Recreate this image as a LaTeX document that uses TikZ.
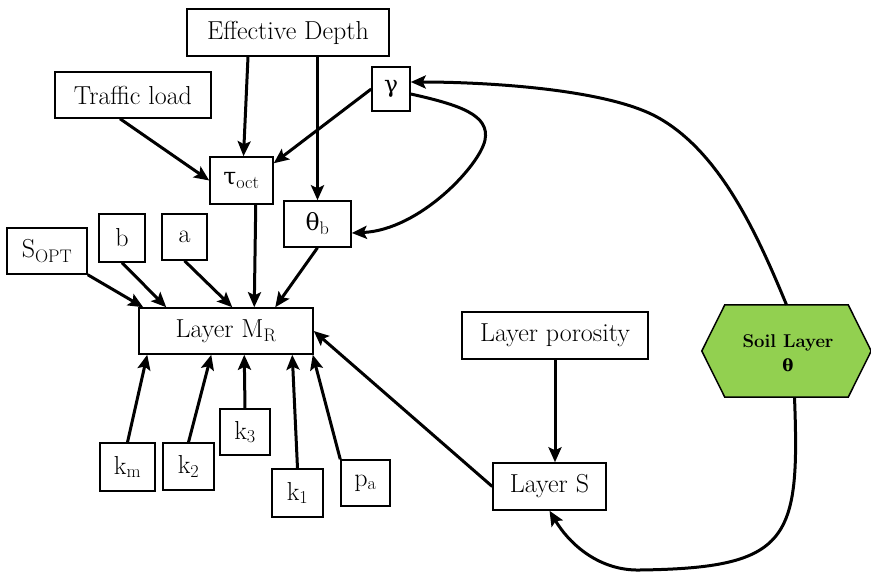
\documentclass[tikz,border=0pt]{standalone}
\usepackage{fontspec}
\newfontfamily\grk{DejaVu Serif}[Scale=0.9]
\usetikzlibrary{arrows.meta,calc}
\definecolor{soilgreen}{HTML}{92D050}
\begin{document}
\begin{tikzpicture}[x=1pt,y=-1pt,
  box/.style={draw, line width=1.5pt, inner sep=0pt, font=\fontsize{26}{31}\selectfont},
  arr/.style={line width=3pt, -{Stealth[length=15pt,width=13pt,inset=3pt]}}]
\useasboundingbox (0,0) rectangle (871,572);
% nodes
\node[box, minimum width=202pt, minimum height=47pt] (ed) at (288,32.5) {Effective Depth};
\node[box, minimum width=156pt, minimum height=46pt] (tl) at (133,95) {Traffic load};
\node[box, minimum width=38pt, minimum height=44pt] (g) at (391,89) {\grk γ};
\node[box, minimum width=63pt, minimum height=47pt] (tau) at (241.5,180.5) {{\grk τ}\textsubscript{oct}};
\node[box, minimum width=67pt, minimum height=46pt] (thb) at (317.5,224) {{\grk θ}\textsubscript{b}};
\node[box, minimum width=80pt, minimum height=46pt] (sopt) at (47,251) {S\textsubscript{OPT}};
\node[box, minimum width=46pt, minimum height=48pt] (b) at (122,238) {b};
\node[box, minimum width=45pt, minimum height=46pt] (a) at (184.5,237) {a};
\node[box, minimum width=174pt, minimum height=46pt] (mr) at (226,331) {Layer M\textsubscript{R}};
\node[box, minimum width=55pt, minimum height=48pt] (km) at (127.5,467) {k\textsubscript{m}};
\node[box, minimum width=51pt, minimum height=47pt] (k2) at (188.5,466.5) {k\textsubscript{2}};
\node[box, minimum width=50pt, minimum height=46pt] (k3) at (245,432) {k\textsubscript{3}};
\node[box, minimum width=51pt, minimum height=48pt] (k1) at (297.5,493) {k\textsubscript{1}};
\node[box, minimum width=49pt, minimum height=46pt] (pa) at (365.5,483) {p\textsubscript{a}};
\node[box, minimum width=186pt, minimum height=47pt] (lp) at (555,335.5) {Layer porosity};
\node[box, minimum width=113pt, minimum height=47pt] (ls) at (549.5,486.5) {Layer S};
% soil layer hexagon
\node[minimum width=169pt, minimum height=92pt, inner sep=0pt] (soil) at (786.5,351) {};
\draw[line width=1.5pt, fill=soilgreen] (soil.west) -- ([xshift=23pt]soil.north west)
  -- ([xshift=-23pt]soil.north east) -- (soil.east) -- ([xshift=-23pt]soil.south east)
  -- ([xshift=23pt]soil.south west) -- cycle;
\node[font=\bfseries\fontsize{18.5}{24}\selectfont, align=center, inner sep=0pt] (soiltext) at (788,353) {Soil Layer\\{\grk\bfseries θ}};
% connectors
\draw[arr] ([xshift=-40pt]ed.south) -- ([xshift=2pt]tau.north);
\draw[arr] (thb.north |- ed.south) -- (thb.north);
\draw[arr] ([xshift=-13pt]tl.south) -- (tau.west);
\draw[arr] (g.west) -- ([yshift=-7pt]tau.north east);
\draw[arr] ([yshift=-5pt]g.east) .. controls (460,105) and (490,115) .. (485,140)
  .. controls (480,165) and (420,230) .. ([yshift=-9pt]thb.east);
\draw[arr] (soil.north) .. controls (756,231) and (719,151) .. (657,117)
  .. controls (604,88) and (480,82) .. ([yshift=7pt]g.east);
\draw[arr] ([xshift=8pt]soil.south) .. controls (800,540) and (790,568) .. (640,570)
  .. controls (600,571) and (570,545) .. (ls.south);
\draw[arr] (lp.south) -- (lp.south |- ls.north);
\draw[arr] (ls.west) -- (mr.east);
\draw[arr] (sopt.south east) -- ([xshift=5pt]mr.north west);
\draw[arr] (b.south) -- ([xshift=28pt]mr.north west);
\draw[arr] (a.south) -- ([xshift=94pt]mr.north west);
\draw[arr] ([xshift=-18pt]tau.south east) -- ([xshift=116pt]mr.north west);
\draw[arr] (thb.south) -- ([xshift=137pt]mr.north west);
\draw[arr] (km.north) -- ([xshift=9pt]mr.south west);
\draw[arr] (k2.north) -- ([xshift=73pt]mr.south west);
\draw[arr] (k3.north) -- ([xshift=106pt]mr.south west);
\draw[arr] (k1.north) -- ([xshift=154pt]mr.south west);
\draw[arr] (pa.north west) -- ([xshift=-1pt]mr.south east);
\end{tikzpicture}
\end{document}
